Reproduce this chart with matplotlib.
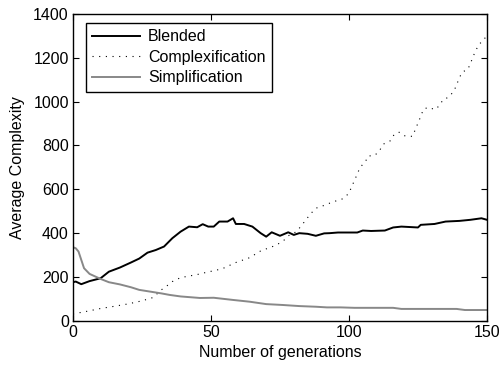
import matplotlib
matplotlib.use('Agg')
import matplotlib.pyplot as plt

plt.rcParams['font.family'] = ['Liberation Sans', 'DejaVu Sans']
plt.rcParams['font.size'] = 11.5

# Blended run
gen_blended = [0, 1, 3, 6, 10, 13, 17, 21, 24, 27, 30, 33, 36, 39, 42, 45, 47, 49,
               51, 53, 56, 58, 59, 62, 65, 68, 70, 72, 75, 78, 80, 82, 85, 88, 91,
               93, 96, 99, 103, 105, 108, 113, 116, 119, 125, 126, 131, 135, 140,
               144, 148, 150]
avg_blended = [175, 178, 166, 180, 193, 223, 242, 265, 283, 310, 322, 338, 376, 406,
               429, 426, 440, 429, 429, 452, 452, 467, 441, 441, 429, 399, 383, 403,
               387, 403, 391, 399, 396, 387, 398, 399, 402, 402, 402, 411, 409, 411,
               425, 429, 425, 437, 441, 452, 455, 460, 467, 460]

# Complexification run
gen_complex = [0, 5, 10, 15, 20, 25, 29, 32, 34, 36, 39, 42, 45, 48, 54, 59, 64, 68,
               73, 76, 78, 81, 83, 86, 88, 90, 93, 95, 98, 100, 101, 102, 103, 104,
               106, 107, 109, 111, 112, 113, 115, 116, 118, 120, 123, 124, 125, 126,
               127, 129, 131, 133, 134, 136, 138, 139, 140, 141, 143, 144, 145, 146,
               147, 149, 150]
avg_complex = [30, 42, 55, 65, 76, 90, 105, 140, 158, 178, 196, 203, 210, 219, 236,
               265, 287, 318, 341, 361, 387, 406, 437, 486, 513, 521, 536, 545, 557,
               582, 612, 640, 669, 699, 727, 752, 752, 772, 800, 810, 821, 844, 861,
               844, 841, 871, 902, 932, 966, 974, 963, 983, 1009, 1019, 1047, 1077,
               1108, 1135, 1146, 1173, 1207, 1234, 1260, 1283, 1310]

# Simplification run
gen_simple = [0, 1, 2, 3, 4, 6, 10, 13, 17, 21, 24, 28, 32, 35, 39, 42, 46, 51, 58,
              64, 70, 76, 82, 88, 92, 97, 102, 116, 119, 139, 142, 150]
avg_simple = [335, 330, 315, 277, 239, 213, 190, 175, 165, 152, 140, 132, 124, 117,
              110, 107, 103, 104, 94, 86, 75, 71, 66, 63, 60, 60, 58, 58, 53, 53,
              48, 48]

fig = plt.figure(figsize=(5.01, 3.68), dpi=100)
ax = fig.add_axes([0.1457, 0.129, 0.8263, 0.833])

ax.plot(gen_blended, avg_blended, color='black', lw=1.4, label='Blended')
ax.plot(gen_complex, avg_complex, color='black', lw=0.8,
        linestyle=(0, (1, 5)), label='Complexification')
ax.plot(gen_simple, avg_simple, color='#888888', lw=1.4, label='Simplification')

ax.set_xlim(0, 150)
ax.set_ylim(0, 1400)
ax.set_xticks([0, 50, 100, 150])
ax.set_yticks(range(0, 1401, 200))
ax.tick_params(direction='in', top=True, right=True, length=4, width=0.8,
               labelsize=11.5, pad=3)
for s in ax.spines.values():
    s.set_linewidth(1.0)

ax.set_xlabel('Number of generations', fontsize=11.5, labelpad=4)
ax.set_ylabel('Average Complexity', fontsize=11.5, labelpad=6)

leg = ax.legend(loc='upper left', bbox_to_anchor=(0.031, 0.971), borderaxespad=0,
                fontsize=11.5, handlelength=3.0, handletextpad=0.5,
                labelspacing=0.35, fancybox=False, framealpha=1,
                edgecolor='black', borderpad=0.4)
leg.get_frame().set_linewidth(1.0)

fig.savefig('out.png', dpi=100)
